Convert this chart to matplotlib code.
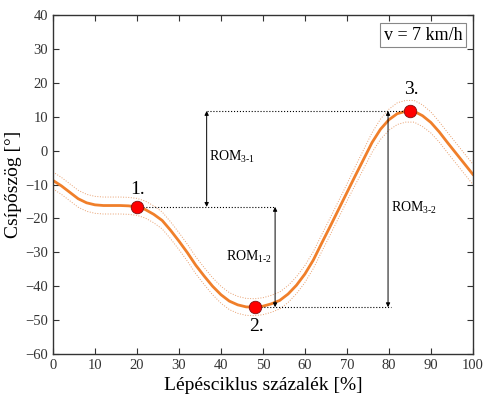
import numpy as np
import matplotlib.pyplot as plt

plt.rcParams['font.family'] = 'Liberation Serif'
plt.rcParams['mathtext.fontset'] = 'custom'
plt.rcParams['mathtext.rm'] = 'Liberation Serif'

cycle = list(range(0, 101, 2))
hip_mean = [-8.8, -10.4, -12.3, -14.2, -15.4, -16.0, -16.2, -16.2, -16.2, -16.3,
            -16.6, -17.4, -18.8, -20.6, -23.5, -26.7, -30.1, -33.8, -37.0, -40.0,
            -42.5, -44.4, -45.5, -46.1, -46.2, -45.9, -45.2, -44.2, -42.3, -39.7,
            -36.4, -32.3, -27.3, -22.4, -17.4, -12.4, -7.4, -2.5, 2.4, 6.3,
            9.1, 10.9, 11.6, 11.6, 10.3, 8.3, 5.5, 2.3, -0.8, -3.9, -7.0]
hip_sd = [2.5] * 36 + [2.7, 2.8, 2.9, 3.0, 3.1, 3.2, 3.2, 3.2, 3.2, 3.1, 3.0,
                       3.0, 3.0, 3.0, 3.0]

# key points
pt_x = [20, 48, 85]
pt_y = [-16.6, -46.2, 11.7]
pt_labels = ['1.', '2.', '3.']

orange = '#f07f2a'

fig = plt.figure(figsize=(4.83, 4.01), dpi=100)
ax = fig.add_axes([0.1097, 0.1172, 0.8693, 0.8454])

x = np.array(cycle)
m = np.array(hip_mean)
sd = np.array(hip_sd)
ax.plot(x, m + sd, ':', color='#e8a070', lw=0.7)
ax.plot(x, m - sd, ':', color='#e8a070', lw=0.7)
ax.plot(x, m, '-', color=orange, lw=2.0, solid_joinstyle='round')

# reference lines
ax.plot([36.6, pt_x[2]], [pt_y[2], pt_y[2]], ':', color='k', lw=0.8)
ax.plot([pt_x[0], 52.9], [pt_y[0], pt_y[0]], ':', color='k', lw=0.8)
ax.plot([pt_x[1], 80.5], [pt_y[1], pt_y[1]], ':', color='k', lw=0.8)

arr = dict(arrowstyle='<|-|>', color='k', lw=0.7, mutation_scale=6,
           shrinkA=0, shrinkB=0)
ax.annotate('', xy=(36.6, pt_y[2]), xytext=(36.6, pt_y[0]), arrowprops=arr)
ax.annotate('', xy=(52.9, pt_y[0]), xytext=(52.9, pt_y[1]), arrowprops=arr)
ax.annotate('', xy=(79.8, pt_y[2]), xytext=(79.8, pt_y[1]), arrowprops=arr)

ax.text(37.2, -1.9, r'ROM$_{3\text{-}1}$', fontsize=10, va='center', ha='left')
ax.text(52.2, -31.3, r'ROM$_{1\text{-}2}$', fontsize=10, va='center', ha='right')
ax.text(80.6, -16.9, r'ROM$_{3\text{-}2}$', fontsize=10, va='center', ha='left')

ax.plot(pt_x, pt_y, 'o', color='red', markeredgecolor='#801010',
        markeredgewidth=0.6, markersize=9, zorder=5)
ax.text(20.2, -11.6, pt_labels[0], fontsize=14, ha='center', va='center')
ax.text(48.5, -52.0, pt_labels[1], fontsize=14, ha='center', va='center')
ax.text(85.4, 17.9, pt_labels[2], fontsize=14, ha='center', va='center')

ax.text(0.975, 0.965, 'v = 7 km/h', transform=ax.transAxes, fontsize=13,
        ha='right', va='top',
        bbox=dict(boxstyle='square,pad=0.2', fc='white', ec='#888888', lw=0.8))

ax.set_xlim(0, 100)
ax.set_ylim(-60, 40)
ax.set_xticks(np.arange(0, 101, 10))
ax.set_yticks(np.arange(-60, 41, 10))
ax.tick_params(direction='in', top=True, right=True, labelsize=10.5,
               colors='#333333', length=4, width=0.8)
for s in ax.spines.values():
    s.set_color('#333333')
    s.set_linewidth(1.0)

ax.set_xlabel('Lépésciklus százalék [%]', fontsize=14)
ax.set_ylabel('Csípőszög [°]', fontsize=14, labelpad=2)

fig.savefig('out.png', dpi=100)
